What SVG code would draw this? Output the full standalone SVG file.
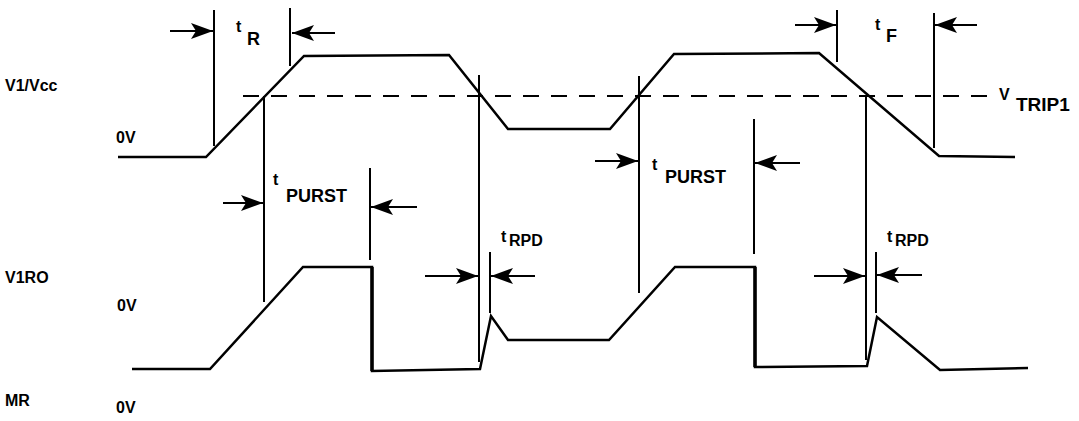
<svg xmlns="http://www.w3.org/2000/svg" width="1079" height="421" viewBox="0 0 1079 421">
<style>
.w{fill:none;stroke:#000;stroke-width:2.5;stroke-linejoin:miter}
.v{stroke:#000;stroke-width:2}
.a{stroke:#000;stroke-width:2;marker-end:url(#ah)}
.d{stroke:#000;stroke-width:2;stroke-dasharray:16 12;fill:none}
text{font-family:"Liberation Sans",Arial,sans-serif;font-weight:bold;fill:#000}
.lb{font-size:16px}
.t{font-size:16px}
.s{font-size:18px}
.r{font-size:16px}
</style>
<defs>
<marker id="ah" markerUnits="userSpaceOnUse" markerWidth="26" markerHeight="18" viewBox="-24 -9 26 18" refX="0" refY="0" orient="auto">
<path d="M0,0 L-22,-8 L-17,0 L-22,8 Z" fill="#000"/>
</marker>
</defs>
<rect width="1079" height="421" fill="#fff"/>
<g id="labels">
<text class="lb" x="5" y="91">V1/Vcc</text>
<text class="lb" x="116" y="143">0V</text>
<text class="lb" x="5" y="283">V1RO</text>
<text class="lb" x="117" y="311">0V</text>
<text class="lb" x="5" y="406">MR</text>
<text class="lb" x="116" y="413">0V</text>
</g>
<g id="vcc">
<polyline class="w" points="118,157 206,157 304,56 449,55 508,129 610,129 674,54 819,53 939,156 1015,157"/>
<line class="d" x1="243" y1="96" x2="993" y2="96"/>
<text class="t" x="999" y="100">V</text>
<text style="font-size:19px" x="1016" y="111">TRIP1</text>
</g>
<g id="v1ro">
<polyline class="w" points="132,369 210,369 303,267 372,267 372,371 480,369 491,316 508,340 609,340 675,267 755,267 755,367 867,366 877,317 940,370 1028,368"/>
<line x1="372" y1="267" x2="372" y2="371" stroke="#000" stroke-width="3.5"/>
<line x1="755" y1="267" x2="755" y2="367" stroke="#000" stroke-width="3.5"/>
</g>
<g id="tR">
<line class="v" x1="214" y1="10" x2="214" y2="146"/>
<line class="v" x1="290" y1="8" x2="290" y2="66"/>
<line class="a" x1="170" y1="31" x2="213" y2="31"/>
<line class="a" x1="335" y1="33" x2="292" y2="33"/>
<text class="t" x="236" y="32">t</text>
<text class="s" x="247" y="45">R</text>
</g>
<g id="tF">
<line class="v" x1="837" y1="10" x2="837" y2="62"/>
<line class="v" x1="934" y1="13" x2="934" y2="148"/>
<line class="a" x1="795" y1="25" x2="836" y2="25"/>
<line class="a" x1="977" y1="25" x2="935" y2="25"/>
<text class="t" x="875" y="30">t</text>
<text class="s" x="886" y="42">F</text>
</g>
<g id="tPURST1">
<line class="v" x1="264" y1="96" x2="264" y2="302"/>
<line class="v" x1="370" y1="168" x2="370" y2="260"/>
<line class="a" x1="223" y1="203" x2="263" y2="203"/>
<line class="a" x1="417" y1="207" x2="371" y2="207"/>
<text class="t" x="273" y="185">t</text>
<text class="s" x="286" y="202">PURST</text>
</g>
<g id="tPURST2">
<line class="v" x1="639" y1="76" x2="639" y2="293"/>
<line class="v" x1="754" y1="119" x2="754" y2="254"/>
<line class="a" x1="595" y1="161" x2="638" y2="161"/>
<line class="a" x1="800" y1="163" x2="755" y2="163"/>
<text class="t" x="652" y="170">t</text>
<text class="s" x="665" y="183">PURST</text>
</g>
<g id="tRPD1">
<line class="v" x1="479" y1="75" x2="479" y2="362"/>
<line class="v" x1="490" y1="252" x2="490" y2="313"/>
<line class="a" x1="425" y1="276" x2="478" y2="276"/>
<line class="a" x1="535" y1="276" x2="491" y2="276"/>
<text class="t" x="501" y="242">t</text>
<text class="r" x="509" y="246">RPD</text>
</g>
<g id="tRPD2">
<line class="v" x1="866" y1="96" x2="866" y2="360"/>
<line class="v" x1="876" y1="252" x2="876" y2="313"/>
<line class="a" x1="814" y1="276" x2="865" y2="276"/>
<line class="a" x1="922" y1="275" x2="877" y2="275"/>
<text class="t" x="887" y="242">t</text>
<text class="r" x="895" y="246">RPD</text>
</g>
</svg>
